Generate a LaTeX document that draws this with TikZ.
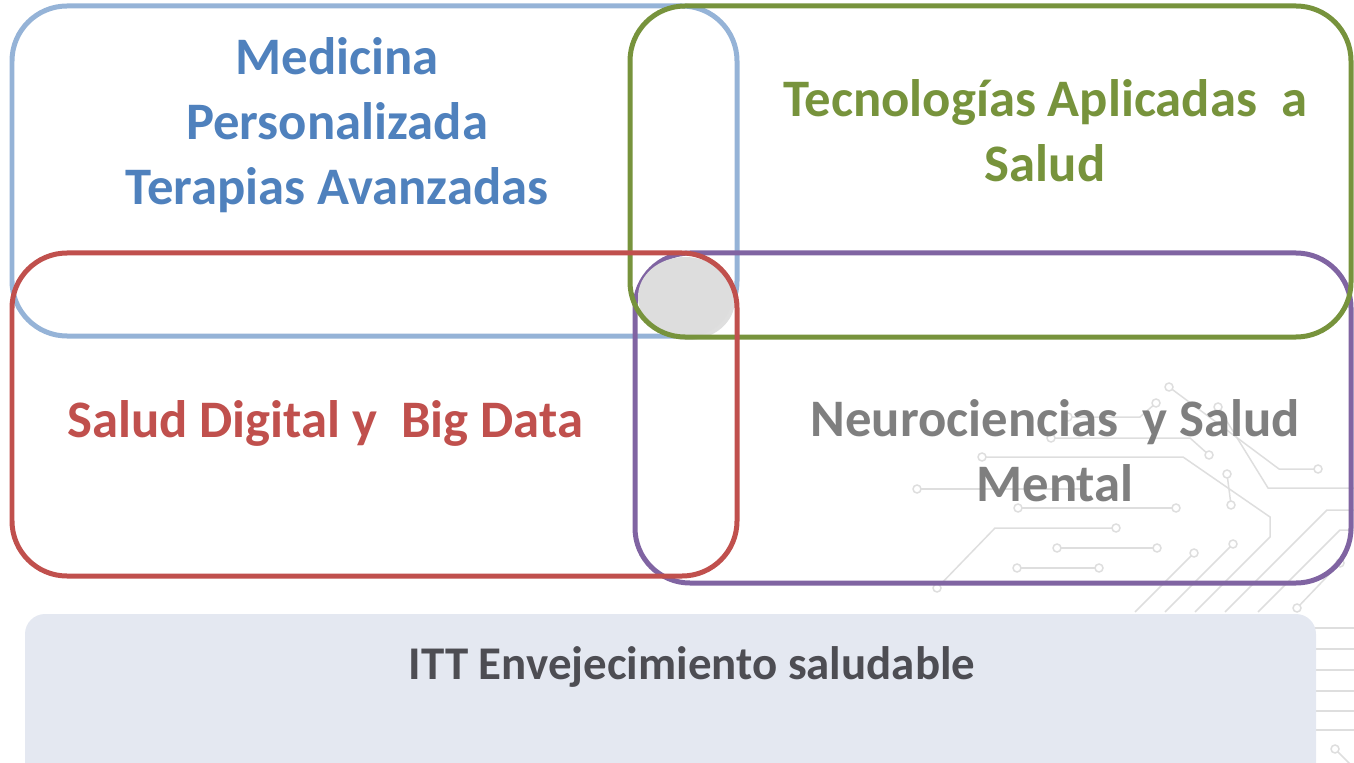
\documentclass[tikz,border=0pt]{standalone}
\usepackage{fontspec}
\setmainfont{Carlito}
\usepackage{tikz}

\definecolor{medline}{HTML}{95B3D7}
\definecolor{medtext}{HTML}{4F81BD}
\definecolor{tecgreen}{HTML}{77933C}
\definecolor{salred}{HTML}{C0504D}
\definecolor{neupurple}{HTML}{8064A2}
\definecolor{neutext}{HTML}{7F7F7F}
\definecolor{ittfill}{HTML}{E4E8F1}
\definecolor{itttext}{HTML}{4D4D53}
\definecolor{circgray}{HTML}{DEDEDE}
\definecolor{coregray}{HTML}{DDDDDD}

\tikzset{
  area/.style={line width=0.1cm, rounded corners=1.1cm},
  areatext/.style={font=\bfseries\fontsize{30}{37}\selectfont, align=center, inner sep=0pt},
  trace/.style={circgray, line width=0.03cm},
  pad/.style={circgray, line width=0.03cm, fill=white}
}

\begin{document}
\begin{tikzpicture}[x=0.02cm, y=-0.02cm]
	\useasboundingbox (0,0) rectangle (1354,763);
	\clip (0,0) rectangle (1354,763);

	% circuit board in the background
	\draw [trace] (982,457) -- (1183,457) -- (1270,517) -- (1270,537) -- (1195,612);
	\draw [trace] (1018,508) -- (1176,508);
	\draw [trace] (937,588) -- (995,528) -- (1116,528);
	\draw [trace] (1057,548) -- (1157,548);
	\draw [trace] (1017,568) -- (1099,568);
	\draw [trace] (917,489) -- (1080,489);
	\draw [trace] (1169,387) -- (1279,469) -- (1318,469);
	\draw [trace] (1218,407) -- (1268,488) -- (1354,488);
	\draw [trace] (1051,438) -- (1190,438) -- (1209,455);
	\draw [trace] (1068,417) -- (1140,417) -- (1156,403);
	\draw [trace] (1227,474) -- (1231,505);
	\draw [trace] (1354,510) -- (1327,510) -- (1225,612);
	\draw [trace] (1354,530) -- (1340,530) -- (1258,612);
	\draw [trace] (1233,544) -- (1165,612);
	\draw [trace] (1194,553) -- (1135,612);
	\draw [trace] (1340,563) -- (1297,608);
	\draw [trace] (1335,749) -- (1354,768);
	\foreach \y in {628,649,670,691,711,730}
		\draw [trace] (1300,\y) -- (1354,\y);
	\foreach \p in {(982,457),(1018,508),(1176,508),(937,588),(1116,528),(1057,548),(1157,548),
		(1017,568),(1099,568),(917,489),(1169,387),(1318,469),(1218,407),(1209,455),(1051,438),
		(1068,417),(1156,403),(1227,474),(1231,505),(1233,544),(1194,553),(1340,563),(1297,608),(1335,749)}
		\draw [pad] \p circle [radius=0.08cm];

	% bottom bar
	\path [fill=ittfill, rounded corners=0.4cm] (25,614) rectangle (1316,800);

	% the four areas
	\draw [area, medline] (12,6) rectangle (737,336);
	\draw [area, neupurple] (635,253) rectangle (1351,583);

	\fill [gray!25] (688,300) ellipse [x radius=0.94cm, y radius=0.8cm];
	\fill [coregray] (685,297) ellipse [x radius=0.94cm, y radius=0.8cm];

	\draw [area, tecgreen] (630,6) rectangle (1351,337);
	\draw [area, salred] (12,253) rectangle (737,576);

	\node [areatext, text=medtext] (medicina) at (337,125) {Medicina\\Personalizada\\Terapias Avanzadas};
	\node [areatext, text=tecgreen] (tecnologias) at (1045,131) {Tecnologías Aplicadas\ \ a\\Salud};
	\node [areatext, text=salred, anchor=base] (digital) at (325,437) {Salud Digital y\ \ Big Data};
	\node [areatext, text=neutext] (neuro) at (1055,451) {Neurociencias\ \ y Salud\\Mental};

	\node [font=\bfseries\fontsize{26.7}{32}\selectfont, text=itttext, anchor=base, inner sep=0pt] (itt) at (692,679) {ITT Envejecimiento saludable};
\end{tikzpicture}
\end{document}
